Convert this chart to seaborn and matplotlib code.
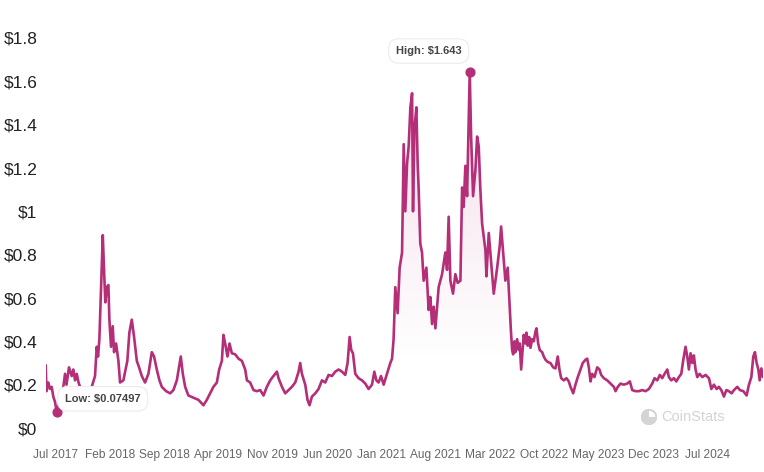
import numpy as np
import pandas as pd
import matplotlib
matplotlib.use("Agg")
import matplotlib.pyplot as plt
import matplotlib.dates as mdates
from matplotlib.patches import Wedge, Circle
import seaborn as sns

# months since Jul 2017
months = [-1.20, -1.10, -0.86, -0.64, -0.43, -0.22, 0.00, 0.22, 0.45, 0.77,
          1.07, 1.29, 1.48, 1.80, 2.15, 2.36, 2.58, 2.80, 3.03, 3.22,
          3.74, 4.25, 4.73, 5.15, 5.37, 5.54, 5.71, 5.93, 6.15, 6.31,
          6.48, 6.66, 6.87, 7.00, 7.21, 7.43, 7.60, 7.86, 8.16, 8.37,
          8.80, 9.08, 9.31, 9.57, 9.88, 10.18, 10.53, 10.82, 11.17, 11.59,
          12.02, 12.46, 12.75, 13.10, 13.44, 13.75, 14.30, 14.82, 15.24, 15.68,
          16.19, 16.45, 16.75, 17.17, 17.82, 18.46, 19.11, 19.54, 19.97, 20.39,
          20.83, 21.13, 21.48, 21.68, 21.90, 22.20, 22.46, 22.76, 23.19, 23.62,
          24.05, 24.48, 24.70, 25.12, 25.55, 25.99, 26.41, 26.84, 27.27, 27.70,
          28.12, 28.56, 28.77, 29.21, 29.63, 30.06, 30.49, 30.92, 31.35, 31.56,
          31.78, 32.21, 32.50, 32.76, 33.07, 33.50, 33.92, 34.36, 34.78, 35.21,
          35.65, 36.07, 36.50, 36.94, 37.36, 37.66, 37.92, 38.13, 38.35, 38.65,
          39.07, 39.51, 39.94, 40.36, 40.80, 41.10, 41.36, 41.65, 41.96, 42.30,
          42.64, 42.94, 43.16, 43.38, 43.58, 43.80, 44.10, 44.36, 44.67, 44.88,
          45.09, 45.31, 45.52, 45.74, 45.96, 46.08, 46.25, 46.51, 46.68, 46.81,
          47.02, 47.24, 47.45, 47.80, 48.09, 48.31, 48.53, 48.74, 48.96, 49.38,
          49.82, 50.24, 50.46, 50.67, 50.89, 51.23, 51.53, 51.83, 52.18, 52.40,
          52.60, 52.82, 53.04, 53.38, 53.56, 53.81, 54.11, 54.33, 54.54, 54.75,
          54.97, 55.40, 55.53, 55.83, 56.04, 56.47, 56.91, 57.24, 57.42, 57.68,
          57.97, 58.27, 58.49, 58.68, 58.84, 58.97, 59.13, 59.26, 59.48, 59.69,
          59.82, 60.00, 60.16, 60.33, 60.55, 60.68, 60.85, 61.03, 61.20, 61.41,
          61.62, 61.84, 61.97, 62.19, 62.39, 62.70, 62.91, 63.13, 63.42, 63.77,
          64.12, 64.42, 64.71, 64.93, 65.15, 65.49, 65.83, 66.13, 66.35, 66.70,
          66.99, 67.29, 67.64, 67.93, 68.28, 68.50, 68.71, 68.93, 69.14, 69.44,
          69.79, 70.08, 70.30, 70.64, 71.08, 71.50, 71.93, 72.15, 72.44, 72.79,
          73.21, 73.65, 73.99, 74.30, 74.72, 75.15, 75.59, 76.01, 76.44, 76.87,
          77.17, 77.52, 77.85, 78.16, 78.46, 78.81, 79.01, 79.32, 79.66, 79.97,
          80.30, 80.61, 80.87, 81.16, 81.38, 81.59, 81.81, 82.03, 82.23, 82.45,
          82.67, 82.97, 83.32, 83.74, 84.17, 84.48, 84.81, 85.16, 85.45, 85.76,
          86.10, 86.41, 86.74, 87.09, 87.39, 87.82, 88.16, 88.60, 89.02, 89.32,
          89.63, 89.88, 90.09, 90.31, 90.53, 90.70, 90.92, 91.13]

prices = [0.29, 0.17, 0.21, 0.18, 0.19, 0.145, 0.12, 0.07497, 0.10, 0.15,
          0.19, 0.25, 0.20, 0.28, 0.24, 0.27, 0.22, 0.25, 0.21, 0.19,
          0.17, 0.16, 0.19, 0.24, 0.375, 0.33, 0.41, 0.65, 0.89, 0.73,
          0.58, 0.65, 0.66, 0.50, 0.375, 0.47, 0.35, 0.39, 0.31, 0.21,
          0.22, 0.27, 0.31, 0.44, 0.50, 0.42, 0.31, 0.28, 0.24, 0.21,
          0.25, 0.35, 0.33, 0.27, 0.22, 0.19, 0.17, 0.16, 0.175, 0.22,
          0.33, 0.25, 0.19, 0.15, 0.14, 0.13, 0.105, 0.13, 0.16, 0.19,
          0.21, 0.27, 0.31, 0.43, 0.39, 0.33, 0.39, 0.345, 0.34, 0.32,
          0.31, 0.27, 0.22, 0.21, 0.175, 0.17, 0.175, 0.15, 0.19, 0.22,
          0.24, 0.26, 0.23, 0.19, 0.16, 0.175, 0.19, 0.21, 0.26, 0.30,
          0.25, 0.20, 0.13, 0.105, 0.145, 0.16, 0.18, 0.22, 0.21, 0.245,
          0.24, 0.26, 0.27, 0.26, 0.245, 0.30, 0.42, 0.36, 0.345, 0.25,
          0.23, 0.22, 0.205, 0.18, 0.20, 0.26, 0.22, 0.21, 0.24, 0.20,
          0.24, 0.275, 0.30, 0.32, 0.41, 0.65, 0.53, 0.74, 0.81, 1.31,
          1.00, 1.22, 1.30, 1.48, 1.545, 1.00, 1.375, 1.48, 1.22, 1.10,
          0.85, 0.81, 0.68, 0.74, 0.545, 0.605, 0.48, 0.56, 0.46, 0.65,
          0.71, 0.81, 0.73, 0.975, 0.68, 0.62, 0.71, 0.67, 0.68, 1.11,
          1.02, 1.21, 1.07, 1.643, 1.345, 1.07, 1.19, 1.345, 1.30, 1.10,
          0.945, 0.82, 0.70, 0.90, 0.81, 0.62, 0.74, 0.84, 0.93, 0.81,
          0.68, 0.74, 0.58, 0.45, 0.36, 0.34, 0.40, 0.35, 0.41, 0.36,
          0.39, 0.27, 0.345, 0.43, 0.39, 0.44, 0.38, 0.42, 0.37, 0.41,
          0.40, 0.445, 0.46, 0.39, 0.36, 0.35, 0.33, 0.315, 0.305, 0.30,
          0.28, 0.275, 0.33, 0.27, 0.23, 0.22, 0.23, 0.215, 0.19, 0.16,
          0.20, 0.235, 0.27, 0.30, 0.315, 0.32, 0.28, 0.215, 0.25, 0.235,
          0.28, 0.27, 0.245, 0.23, 0.22, 0.205, 0.19, 0.17, 0.19, 0.205,
          0.20, 0.205, 0.215, 0.175, 0.17, 0.17, 0.175, 0.17, 0.18, 0.205,
          0.23, 0.22, 0.245, 0.23, 0.25, 0.27, 0.235, 0.22, 0.23, 0.215,
          0.235, 0.25, 0.315, 0.375, 0.33, 0.27, 0.345, 0.30, 0.335, 0.27,
          0.235, 0.25, 0.235, 0.245, 0.23, 0.18, 0.20, 0.18, 0.19, 0.175,
          0.145, 0.175, 0.17, 0.16, 0.175, 0.19, 0.175, 0.17, 0.15, 0.20,
          0.235, 0.33, 0.35, 0.30, 0.27, 0.22, 0.275, 0.235]

x_tick_labels = ["Jul 2017", "Feb 2018", "Sep 2018", "Apr 2019", "Nov 2019",
                 "Jun 2020", "Jan 2021", "Aug 2021", "Mar 2022", "Oct 2022",
                 "May 2023", "Dec 2023", "Jul 2024"]
y_ticks = [0, 0.2, 0.4, 0.6, 0.8, 1.0, 1.2, 1.4, 1.6, 1.8]
y_tick_labels = ["$0", "$0.2", "$0.4", "$0.6", "$0.8", "$1", "$1.2", "$1.4", "$1.6", "$1.8"]

LINE = "#b42f78"

base = pd.Timestamp("2017-07-01")
dates = base + pd.to_timedelta(np.array(months) * 30.4375, unit="D")
df = pd.DataFrame({"date": dates, "price": prices})

sns.set_theme(style="white")
plt.rcParams["font.family"] = ["Liberation Sans", "DejaVu Sans"]

fig = plt.figure(figsize=(7.64, 4.72), dpi=100)
ax = fig.add_axes([0.0598, 0.0932, 0.9389, 0.8263])

sns.lineplot(data=df, x="date", y="price", ax=ax, color=LINE, linewidth=1.9, zorder=3)

x0 = mdates.date2num(df["date"].iloc[0])
x1 = mdates.date2num(df["date"].iloc[-1])
ax.set_xlim(x0, x1)
ax.set_ylim(0, 1.8)

# gradient fill under the line
poly = ax.fill_between(df["date"], df["price"], 0, color="none", lw=0)
ys = np.linspace(0, 1.8, 256)
alpha = np.clip((ys - 0.3) / 1.3, 0, 1) * 0.16
rgba = np.zeros((256, 1, 4))
rgba[:, 0, :3] = matplotlib.colors.to_rgb(LINE)
rgba[:, 0, 3] = alpha
im = ax.imshow(rgba, aspect="auto", origin="lower", extent=[x0, x1, 0, 1.8], zorder=2)
path = poly.get_paths()[0]
im.set_clip_path(path, transform=ax.transData)

# high / low markers
hi = int(np.argmax(prices))
lo = int(np.argmin(prices))
for idx in (hi, lo):
    ax.scatter([df["date"].iloc[idx]], [prices[idx]], s=40, color=LINE, zorder=5, clip_on=False)

box = dict(boxstyle="round,pad=0.65,rounding_size=0.9", fc="white", ec="#ececec", lw=0.8)
ax.annotate(f"High: ${prices[hi]}", xy=(df["date"].iloc[hi], prices[hi]),
            xytext=(-41, 21), textcoords="offset pixels", ha="center", va="center",
            fontsize=8, fontweight="bold", color="#444444", bbox=box, zorder=6)
ax.annotate(f"Low: ${prices[lo]}", xy=(df["date"].iloc[lo], prices[lo]),
            xytext=(46, 13), textcoords="offset pixels", ha="center", va="center",
            fontsize=8, fontweight="bold", color="#444444", bbox=box, zorder=6)

# ticks
tick_dates = [pd.to_datetime(t, format="%b %Y") for t in x_tick_labels]
ax.set_xticks(tick_dates)
ax.set_xticklabels(x_tick_labels, fontsize=8.6, color="#666666")
ax.set_yticks(y_ticks)
ax.set_yticklabels(y_tick_labels, fontsize=12.5, color="#222222")
ax.tick_params(axis="x", length=0, pad=15)
ax.tick_params(axis="y", length=0, pad=6)
ax.set_xlabel("")
ax.set_ylabel("")
ax.grid(False)
for s in ax.spines.values():
    s.set_visible(False)

# watermark
fig.text(0.866, 0.117, "CoinStats", fontsize=10.5, color="#d4d4d4", ha="left", va="center")
ic = fig.add_axes([0.839, 0.0996, 0.021, 0.034])
ic.set_xlim(-1, 1); ic.set_ylim(-1, 1); ic.set_aspect("equal"); ic.axis("off")
ic.add_patch(Circle((0, 0), 0.9, fc="none", ec="#d4d4d4", lw=1.5))
ic.add_patch(Wedge((0, 0), 0.9, 90, 360, fc="#d4d4d4", ec="none"))

fig.savefig("out.png", dpi=100, facecolor="white")
